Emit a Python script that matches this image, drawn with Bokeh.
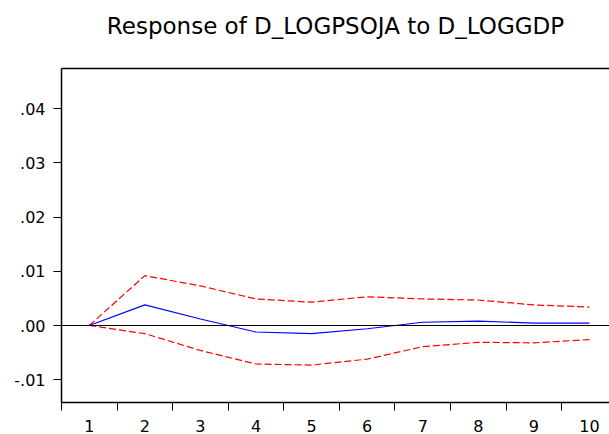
from bokeh.plotting import figure
from bokeh.models import (FixedTicker, CustomJSTickFormatter, Span, LinearAxis,
                          Range1d)
from bokeh.embed import file_html
from bokeh.resources import INLINE

# Data
periods = [1, 2, 3, 4, 5, 6, 7, 8, 9, 10]
response = [0.0, 0.0038, 0.0012, -0.0012, -0.0015, -0.0006, 0.0006, 0.0008, 0.00045, 0.00045]
upper = [0.0, 0.0092, 0.0073, 0.0049, 0.0043, 0.0053, 0.0049, 0.0047, 0.0038, 0.0034]
lower = [0.0, -0.0015, -0.0046, -0.0071, -0.0073, -0.0062, -0.0039, -0.0031, -0.0032, -0.0026]
y_ticks = [-0.01, 0.0, 0.01, 0.02, 0.03, 0.04]
title_text = "Response of D_LOGPSOJA to D_LOGGDP"

FONT = "DejaVu Sans"

p = figure(width=609, height=434, output_backend="svg", toolbar_location=None,
           x_range=Range1d(0.5, 10.36), y_range=Range1d(-0.0142, 0.0474),
           min_border_left=61, min_border_right=0, min_border_top=68,
           min_border_bottom=0)
p.background_fill_color = "white"
p.border_fill_color = "white"
p.outline_line_color = None
p.xgrid.visible = False
p.ygrid.visible = False

p.title.text = title_text
p.title.align = "center"
p.title.text_font = FONT
p.title.text_font_size = "23px"
p.title.text_font_style = "normal"
p.title.text_color = "black"
p.title.standoff = 0

# x axis (below): labels at integers, tick marks at boundaries (minor ticks)
xa = p.below[0]
xa.ticker = FixedTicker(ticks=periods, minor_ticks=[i - 0.5 for i in periods] + [10.5])
xa.major_tick_line_color = None
xa.major_tick_out = 0
xa.major_tick_in = 0
xa.minor_tick_line_color = "black"
xa.minor_tick_out = 8
xa.minor_tick_in = 0
xa.axis_line_color = "black"
xa.axis_line_width = 1.5
xa.major_label_text_font = FONT
xa.major_label_text_font_size = "16px"
xa.major_label_text_color = "black"
xa.major_label_standoff = 9

ya = p.left[0]
ya.ticker = FixedTicker(ticks=y_ticks, minor_ticks=[])
ya.formatter = CustomJSTickFormatter(code="""
    var s = tick.toFixed(2);
    return s.replace('0.', '.');
""")
ya.major_tick_out = 8
ya.major_tick_in = 0
ya.major_tick_line_color = "black"
ya.axis_line_color = "black"
ya.axis_line_width = 1.5
ya.major_label_text_font = FONT
ya.major_label_text_font_size = "16px"
ya.major_label_text_color = "black"
ya.major_label_standoff = 8

# top border line as an axis with no ticks and no labels; its blank axis
# label provides the gap between the title and the frame
top_axis = LinearAxis(ticker=FixedTicker(ticks=[], minor_ticks=[]),
                      major_tick_line_color=None, minor_tick_line_color=None,
                      major_tick_out=0, major_tick_in=0, minor_tick_out=0,
                      major_label_text_font_size="0px", axis_line_color="black",
                      axis_line_width=1.5, major_label_standoff=0,
                      axis_label=" ", axis_label_text_font_size="1px",
                      axis_label_standoff=26)
p.add_layout(top_axis, "above")

p.add_layout(Span(location=0, dimension="width", line_color="black", line_width=1.2))

p.line(periods, upper, line_color="#ff0000", line_width=1.2, line_dash="7 3")
p.line(periods, lower, line_color="#ff0000", line_width=1.2, line_dash="7 3")
p.line(periods, response, line_color="#0000ff", line_width=1.2)

open("out.html", "w").write(file_html(p, INLINE))
